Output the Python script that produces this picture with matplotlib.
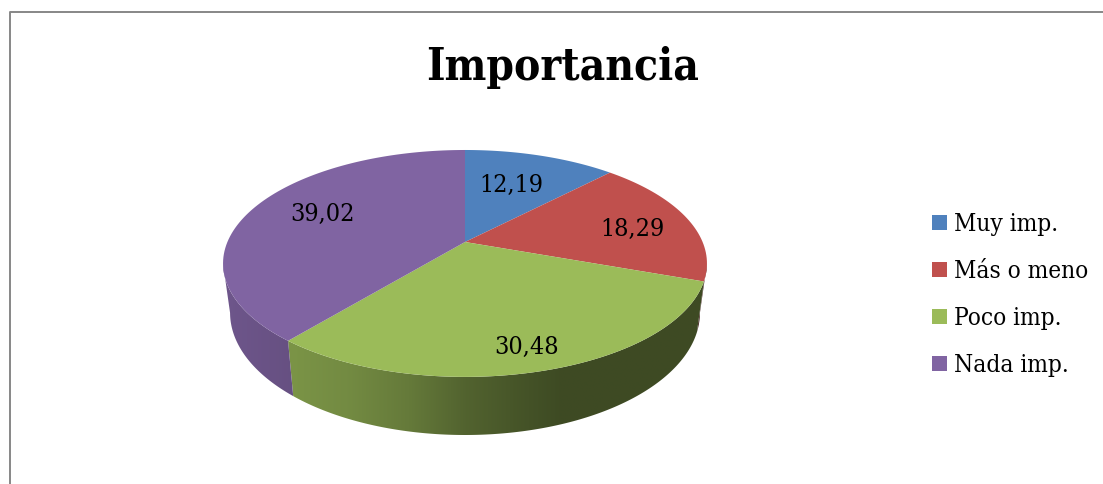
import numpy as np
import matplotlib
matplotlib.use("Agg")
import matplotlib.pyplot as plt
from matplotlib.path import Path
from matplotlib.transforms import Transform
from matplotlib.patches import Rectangle, Polygon

categories = ["Muy imp.", "Más o meno", "Poco imp.", "Nada imp."]
values = [12.19, 18.29, 30.48, 39.02]
value_labels = ["12,19", "18,29", "30,48", "39,02"]
colors = ["#4F81BD", "#C0504D", "#9BBB59", "#8064A2"]
title = "Importancia"

W, H = 1103, 485
CX, CY, A, B, K = 465.0, 243.0, 237.6, 109.4, 0.189
CY2, A2, B2 = 290.5, 230.7, 118.0
FONT = ["DejaVu Serif"]
FONT_KW = dict(family=FONT, stretch="condensed")


def project(u, v, cy=CY, a=A, b=B):
    w = 1 + K * v
    return CX + a * u / w, cy - b * v / w


class Perspective(Transform):
    input_dims = output_dims = 2
    is_affine = False
    has_inverse = False

    def transform_non_affine(self, values):
        values = np.asarray(values, float)
        x, y = project(values[:, 0], values[:, 1])
        return np.column_stack([x, y])

    def transform_path_non_affine(self, path):
        pts = []
        for seg, code in path.iter_bezier():
            if code == Path.MOVETO:
                pts.append(seg.control_points[0])
            elif code == Path.CLOSEPOLY:
                pts.append(seg.control_points[-1])
            else:
                pts.extend(seg(np.linspace(0, 1, 24))[1:])
        return Path(self.transform_non_affine(np.array(pts)))


fig = plt.figure(figsize=(W / 100, H / 100), dpi=100, facecolor="white")
ax = fig.add_axes([0, 0, 1, 1])

wedges, _ = ax.pie(values, colors=colors, startangle=90, counterclock=False,
                   center=(0, 0), radius=1, frame=False)
ax.set_aspect("auto")
persp = Perspective()
for w in wedges:
    w.set_transform(persp + ax.transData)
    w.set_clip_on(False)
    w.set_zorder(5)

# chart frame: left and top only, the rest runs off the picture
ax.plot([10.2, 10.2, W + 2], [H + 2, 12.8, 12.8], color="#878787", lw=1.4, zorder=0)

# side wall: gradient images clipped to the band between top rim and bottom ring
WALL_STOPS = [
    None,
    ([0, 1], [.33, .33]),
    ([293, 350, 410, 465, 520, 560, 710], [.79, .74, .65, .53, .45, .40, .40]),
    ([223, 293], [.86, .80]),
]
edges = np.cumsum([0] + values) / sum(values) * 2 * np.pi
for i, col in enumerate(colors):
    if WALL_STOPS[i] is None:
        continue
    th = np.linspace(edges[i], edges[i + 1], 300)
    x1, y1 = project(np.sin(th), np.cos(th))
    x2, y2 = project(np.sin(th), np.cos(th), CY2, A2, B2)
    # keep only the part of the rim that faces the viewer
    if i == 1:
        keep = slice(int(np.argmax(x1)), None)
    elif i == 3:
        keep = slice(0, int(np.argmin(x1)) + 1)
    else:
        keep = slice(None)
    x1, y1, x2, y2 = x1[keep], y1[keep], x2[keep], y2[keep]
    outline = np.column_stack([np.r_[x1, x2[::-1]], np.r_[y1, y2[::-1]]])
    xs = np.linspace(outline[:, 0].min(), outline[:, 0].max(), 400)
    stops_x, stops_f = WALL_STOPS[i]
    if i == 1:
        f = np.full_like(xs, stops_f[0])
    else:
        f = np.interp(xs, stops_x, stops_f)
    rgb = np.array(matplotlib.colors.to_rgb(col))[None, None, :] * f[None, :, None]
    im = ax.imshow(rgb, extent=(xs[0], xs[-1], outline[:, 1].max(), outline[:, 1].min()),
                   aspect="auto", zorder=3, interpolation="bilinear")
    clip = Polygon(outline, closed=True, transform=ax.transData, fc="none", ec="none")
    ax.add_patch(clip)
    im.set_clip_path(clip)

ax.set_xlim(0, W)
ax.set_ylim(H, 0)
ax.axis("off")

# value labels
label_xy = [(511, 191.5), (632, 235.5), (527, 353.5), (322, 220.5)]
for (lx, ly), s in zip(label_xy, value_labels):
    ax.text(lx, ly, s, ha="center", va="baseline", fontsize=18, color="black", zorder=6, **FONT_KW)

ax.text(563, 80, title, ha="center", va="baseline", fontsize=31.7, fontweight="bold", **FONT_KW)

# legend
for yy, name, c in zip([215.5, 262.5, 309.5, 357], categories, colors):
    ax.add_patch(Rectangle((932, yy), 15, 15, fc=c, ec="none", zorder=6))
    ax.text(954, yy + 15.5, name, ha="left", va="baseline", fontsize=17.5, **FONT_KW)

fig.savefig("out.png", dpi=100, facecolor="white")
